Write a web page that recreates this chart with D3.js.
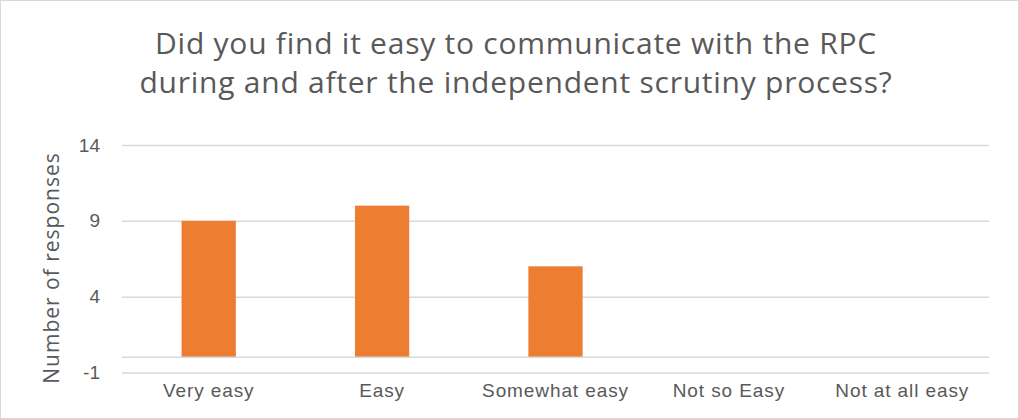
<!DOCTYPE html>
<html>
<head>
<meta charset="utf-8">
<script src="https://cdn.jsdelivr.net/npm/d3@7/dist/d3.min.js"></script>
<style>
  html, body { margin: 0; padding: 0; background: #fff; }
  svg { display: block; font-family: "Open Sans", "Noto Sans", sans-serif; }
</style>
</head>
<body>
<svg id="chart" width="1019" height="419"></svg>
<script>
// Survey responses
const categories = ["Very easy", "Easy", "Somewhat easy", "Not so Easy", "Not at all easy"];
const responses = [9, 10, 6, 0, 0];
const yTicks = [-1, 4, 9, 14];
const titleLines = [
  "Did you find it easy to communicate with the RPC",
  "during and after the independent scrutiny process?"
];
const yTitle = "Number of responses";

const W = 1019, H = 419;
const margin = { top: 145, right: 30, bottom: 46.5, left: 122 };
const textColor = "#595959";
const svg = d3.select("#chart");

// chart frame
svg.append("rect")
  .attr("x", 0.5).attr("y", 0.5)
  .attr("width", W - 1).attr("height", H - 1)
  .attr("fill", "#fff").attr("stroke", "#d9d9d9");

const x = d3.scaleBand()
  .domain(categories)
  .range([margin.left, W - margin.right])
  .padding(0);

const y = d3.scaleLinear()
  .domain([-1, 14])
  .range([H - margin.bottom, margin.top]);

// gridlines
const grid = svg.append("g")
  .attr("transform", `translate(${margin.left},0)`)
  .call(d3.axisLeft(y).tickValues(yTicks).tickSize(-(W - margin.right - margin.left)).tickFormat(""));
grid.select(".domain").remove();
grid.selectAll("line").attr("stroke", "#d9d9d9").attr("stroke-width", 1.5);

// y tick labels (plain hyphen for negatives)
const yAxis = svg.append("g")
  .attr("transform", `translate(${margin.left - 22},0)`)
  .call(d3.axisLeft(y).tickValues(yTicks).tickSize(0).tickPadding(0).tickFormat(d => String(d)));
yAxis.select(".domain").remove();
yAxis.selectAll("text")
  .attr("fill", textColor)
  .style("font-size", "19px");

// bars, width about a third of each slot
const barFrac = 0.313;
svg.append("g").selectAll("rect")
  .data(categories.map((c, i) => ({ c, v: responses[i] })))
  .join("rect")
  .attr("x", d => x(d.c) + x.bandwidth() * (1 - barFrac) / 2)
  .attr("width", x.bandwidth() * barFrac)
  .attr("y", d => y(Math.max(0, d.v)))
  .attr("height", d => Math.abs(y(d.v) - y(0)))
  .attr("fill", "#ed7d31");

// zero baseline
svg.append("line")
  .attr("x1", margin.left).attr("x2", W - margin.right)
  .attr("y1", y(0)).attr("y2", y(0))
  .attr("stroke", "#d9d9d9").attr("stroke-width", 1.5);

// category labels
const xAxis = svg.append("g")
  .attr("transform", `translate(0,${H - margin.bottom})`)
  .call(d3.axisBottom(x).tickSize(0).tickPadding(9));
xAxis.select(".domain").remove();
xAxis.selectAll("text")
  .attr("fill", textColor)
  .attr("dy", "0.35em")
  .attr("y", 18)
  .style("font-size", "19px")
  .style("letter-spacing", "0.9px");

// y-axis title
svg.append("text")
  .attr("transform", `translate(59,${268}) rotate(-90)`)
  .attr("text-anchor", "middle")
  .attr("fill", textColor)
  .style("font-size", "21px")
  .style("letter-spacing", "1px")
  .text(yTitle);

// title
svg.append("g").selectAll("text")
  .data(titleLines)
  .join("text")
  .attr("x", 516)
  .attr("y", (d, i) => 54 + i * 39)
  .attr("text-anchor", "middle")
  .attr("fill", textColor)
  .style("font-size", "30px")
  .style("letter-spacing", "0.75px")
  .text(d => d);
</script>
</body>
</html>
